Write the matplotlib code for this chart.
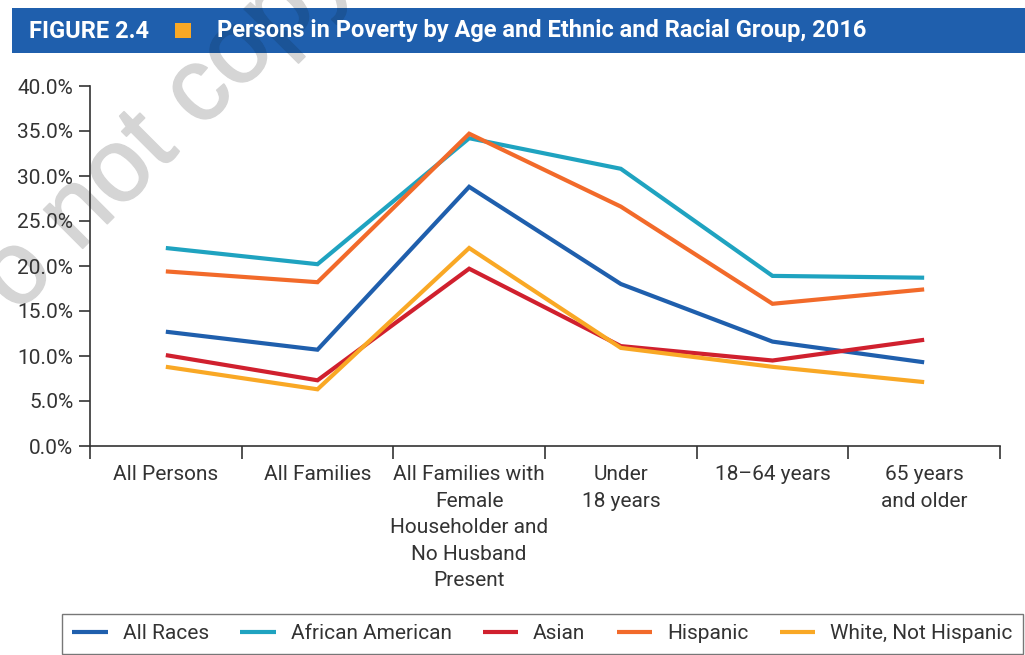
import matplotlib
matplotlib.use("Agg")
import matplotlib.pyplot as plt
import matplotlib.patheffects as pe
from matplotlib.patches import Rectangle
import numpy as np

categories = ["All Persons", "All Families", "All Families with\nFemale\nHouseholder and\nNo Husband\nPresent",
              "Under\n18 years", "18\u201364 years", "65 years\nand older"]
all_races = [12.7, 10.7, 28.8, 18.0, 11.6, 9.3]
african_american = [22.0, 20.2, 34.2, 30.8, 18.9, 18.7]
asian = [10.1, 7.3, 19.7, 11.1, 9.5, 11.8]
hispanic = [19.4, 18.2, 34.7, 26.6, 15.8, 17.4]
white_not_hispanic = [8.8, 6.3, 22.0, 10.9, 8.8, 7.1]
series_names = ["All Races", "African American", "Asian", "Hispanic", "White, Not Hispanic"]
yticks = [0, 5, 10, 15, 20, 25, 30, 35, 40]

colors = ["#1F5FAD", "#1FA3C0", "#D0202E", "#F26A2A", "#F9A825"]
series = [all_races, african_american, asian, hispanic, white_not_hispanic]

W, H = 1025, 655
fig = plt.figure(figsize=(W / 100, H / 100), dpi=100)
fig.patch.set_facecolor("white")

font = ["Roboto", "DejaVu Sans"]
plt.rcParams["font.family"] = font

# header band
band = Rectangle((12 / W, 1 - 53 / H), 1.0, 45 / H, transform=fig.transFigure,
                 facecolor="#1F5FAD", edgecolor="none", zorder=-1)
fig.patches.append(band)
fig.patches.append(Rectangle((175 / W, 1 - 38 / H), 16 / W, 15 / H, transform=fig.transFigure,
                             facecolor="#F9A825", edgecolor="none", zorder=3))
tfam = ["Roboto", "DejaVu Sans"]
fig.text(29 / W, 1 - 31 / H, "FIGURE 2.4", color="white", fontsize=17, fontweight="bold",
         family=tfam, va="center", ha="left", zorder=4)
fig.text(217 / W, 1 - 31 / H, "Persons in Poverty by Age and Ethnic and Racial Group, 2016",
         color="white", fontsize=17, fontweight="bold", family=tfam, va="center", ha="left", zorder=4)

# watermark (light grey on white, darker blue where it crosses the header band)
wm_kw = dict(fontsize=75, rotation=45, rotation_mode="anchor", ha="left", va="baseline",
             family=["Liberation Sans", "DejaVu Sans"])
wm_pos = (-37 / W, 1 - 368 / H)
fig.text(*wm_pos, "Do not copy", color="#d5d5d5", zorder=-2,
         path_effects=[pe.withStroke(linewidth=1.2, foreground="#d5d5d5")], **wm_kw)
wm2 = fig.text(*wm_pos, "Do not copy", color="#1B5497", zorder=-0.5,
               path_effects=[pe.withStroke(linewidth=1.2, foreground="#1B5497")], **wm_kw)
wm2.set_clip_path(band)

ax = fig.add_axes([90 / W, 209 / H, 910 / W, 360 / H])
ax.set_facecolor("none")
x = np.arange(len(categories))
for vals, c, name in zip(series, colors, series_names):
    ax.plot(x, vals, color=c, lw=3, label=name, solid_capstyle="butt", solid_joinstyle="miter")

ax.set_xlim(-0.5, len(categories) - 0.5)
ax.set_ylim(0, 40)
ax.set_yticks(yticks)
ax.set_yticklabels([f"{v:.1f}%" for v in yticks])
ax.set_xticks(x)
ax.set_xticklabels(categories, linespacing=1.5)
ax.set_xticks(np.arange(-0.5, len(categories), 1.0), minor=True)
ax.tick_params(axis="x", which="major", length=0, pad=14, labelsize=15, labelcolor="#333333")
ax.tick_params(axis="x", which="minor", length=9, width=1.2, color="#333333", direction="out")
ax.tick_params(axis="y", length=8, width=1.2, color="#333333", labelsize=15, labelcolor="#333333", pad=4)
for s in ["top", "right"]:
    ax.spines[s].set_visible(False)
for s in ["left", "bottom"]:
    ax.spines[s].set_color("#333333")
    ax.spines[s].set_linewidth(1.2)

leg = fig.legend(loc="upper left", bbox_to_anchor=(62 / W, 1 - 614 / H), ncol=5, frameon=True,
                 fancybox=False, edgecolor="#555555", fontsize=15, handlelength=1.7,
                 handletextpad=0.72, columnspacing=1.5, borderpad=0.5, borderaxespad=0)
leg.get_frame().set_linewidth(1.0)
for t in leg.get_texts():
    t.set_color("#333333")

fig.savefig("out.png", dpi=100)
